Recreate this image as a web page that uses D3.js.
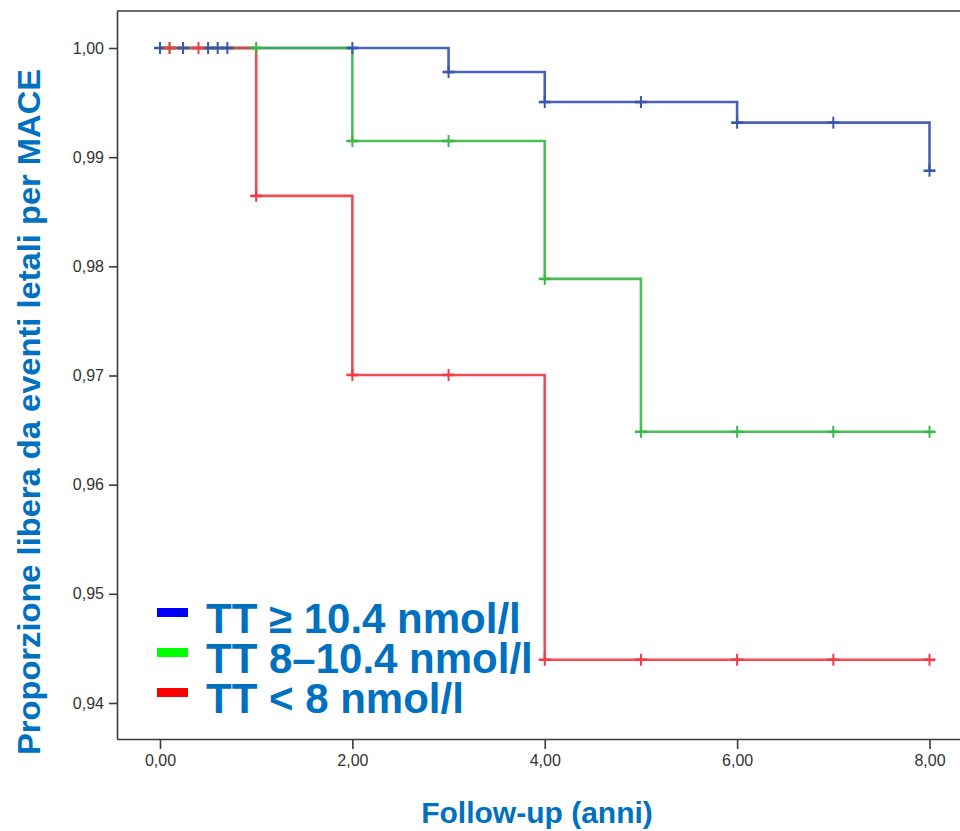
<!DOCTYPE html>
<html>
<head>
<meta charset="utf-8">
<script src="https://cdn.jsdelivr.net/npm/d3@7"></script>
<style>
  body { margin: 0; background: #fff; }
</style>
</head>
<body>
<script>
const w = 960;
const h = 831;

// Kaplan-Meier steps: [time, survival after that time]
const blueSteps = [[0, 1.0], [3, 0.99780], [4, 0.99505], [6, 0.99316], [8, 0.98876]];
const greenSteps = [[0, 1.0], [2, 0.99148], [4, 0.97885], [5, 0.96484], [8, 0.96484]];
const redSteps = [[0, 1.0], [1, 0.98645], [2, 0.97005], [4, 0.94396], [8, 0.94396]];

// censored times
const blueCensor = [0, 0.24, 0.5, 0.6, 0.7, 2, 3, 4, 5, 6, 7, 8];
const greenCensor = [0.1, 1, 2, 3, 4, 5, 6, 7, 8];
const redCensor = [0.1, 0.4, 1, 2, 3, 4, 5, 6, 7, 8];

const xTicks = [0, 2, 4, 6, 8];
const yTicks = [0.94, 0.95, 0.96, 0.97, 0.98, 0.99, 1.0];

const legendLabels = ["TT \u2265 10.4 nmol/l", "TT 8\u201310.4 nmol/l", "TT < 8 nmol/l"];
const legendColors = ["#0000ff", "#00ff00", "#ff0000"];

const groups = [
  {steps: blueSteps, censor: blueCensor, color: "#3a55ad"},
  {steps: greenSteps, censor: greenCensor, color: "#3cb84a"},
  {steps: redSteps, censor: redCensor, color: "#f23b44"}
];

const blueText = "#0070c0";
const axisColor = "#3a3a3a";

////  Frame  ////
const plotLeft = 117, plotTop = 11, plotBottom = 739, plotRight = 960;

const svg = d3.select("body").append("svg").attr("width", w).attr("height", h);

const x = d3.scaleLinear()
  .domain([-0.447, 8.317])
  .range([plotLeft, plotRight]);

const y = d3.scaleLinear()
  .domain([0.93670, 1.00339])
  .range([plotBottom, plotTop]);

// step value at time t
const survAt = (steps, t) => {
  let v = steps[0][1];
  steps.forEach(s => { if (s[0] <= t) v = s[1]; });
  return v;
};

////  Axes  ////
const fmt = d => d3.format(".2f")(d).replace(".", ",");

svg.append("g")
  .attr("transform", `translate(0,${plotBottom})`)
  .call(d3.axisBottom(x).tickValues(xTicks).tickSize(10).tickSizeOuter(0).tickPadding(6).tickFormat(fmt))
  .call(g => g.select(".domain").attr("stroke", axisColor).attr("stroke-width", 1.6))
  .call(g => g.selectAll(".tick line").attr("stroke", axisColor).attr("stroke-width", 1.6))
  .call(g => g.selectAll(".tick text").attr("fill", "#333").attr("font-size", "16px")
    .attr("font-family", "Liberation Sans, Arial, sans-serif"));

svg.append("g")
  .attr("transform", `translate(${plotLeft},0)`)
  .call(d3.axisLeft(y).tickValues(yTicks).tickSize(8).tickSizeOuter(0).tickPadding(5).tickFormat(fmt))
  .call(g => g.select(".domain").attr("stroke", axisColor).attr("stroke-width", 1.6))
  .call(g => g.selectAll(".tick line").attr("stroke", axisColor).attr("stroke-width", 1.6))
  .call(g => g.selectAll(".tick text").attr("fill", "#333").attr("font-size", "16px")
    .attr("font-family", "Liberation Sans, Arial, sans-serif"));

// top border of the plot frame
svg.append("line")
  .attr("x1", plotLeft).attr("x2", plotRight)
  .attr("y1", plotTop).attr("y2", plotTop)
  .attr("stroke", axisColor).attr("stroke-width", 1.6);

////  Curves  ////
const line = d3.line()
  .curve(d3.curveStepAfter)
  .x(d => x(d[0]))
  .y(d => y(d[1]));

groups.forEach(g => {
  svg.append("path")
    .attr("d", line(g.steps))
    .attr("fill", "none")
    .attr("stroke", g.color)
    .attr("stroke-width", 2.6)
    .attr("stroke-opacity", 0.92);
});

groups.forEach(g => {
  const marks = svg.append("g").selectAll("g")
    .data(g.censor)
    .join("g")
    .attr("transform", t => `translate(${x(t)},${y(survAt(g.steps, t))})`);
  marks.append("line")
    .attr("x1", 0).attr("x2", 0).attr("y1", -6).attr("y2", 6)
    .attr("stroke", g.color).attr("stroke-width", 2);
  marks.append("line")
    .attr("x1", -6).attr("x2", 6).attr("y1", 0).attr("y2", 0)
    .attr("stroke", g.color).attr("stroke-width", 2.6);
});

////  Legend  ////
const legend = svg.append("g").selectAll("g")
  .data(legendLabels)
  .join("g")
  .attr("transform", (d, i) => `translate(0,${633 + i * 40})`);

legend.append("rect")
  .attr("x", 157).attr("y", -25)
  .attr("width", 31).attr("height", 9)
  .attr("fill", (d, i) => legendColors[i]);

legend.append("text")
  .attr("x", 206)
  .attr("y", 0)
  .attr("font-family", "Liberation Sans, Arial, sans-serif")
  .attr("font-weight", "bold")
  .attr("font-size", "42px")
  .attr("fill", blueText)
  .text(d => d);

////  Axis titles  ////
svg.append("text")
  .attr("x", 537)
  .attr("y", 823)
  .attr("text-anchor", "middle")
  .attr("font-family", "Liberation Sans, Arial, sans-serif")
  .attr("font-weight", "bold")
  .attr("font-size", "30px")
  .attr("fill", blueText)
  .text("Follow-up (anni)");

svg.append("text")
  .attr("transform", "translate(40,755) rotate(-90)")
  .attr("x", 0)
  .attr("y", 0)
  .attr("font-family", "Liberation Sans Narrow, Arial Narrow, Liberation Sans, sans-serif")
  .attr("font-weight", "bold")
  .attr("font-size", "31px")
  .attr("textLength", 686)
  .attr("lengthAdjust", "spacingAndGlyphs")
  .attr("fill", blueText)
  .text("Proporzione libera da eventi letali per  MACE");
</script>
</body>
</html>
